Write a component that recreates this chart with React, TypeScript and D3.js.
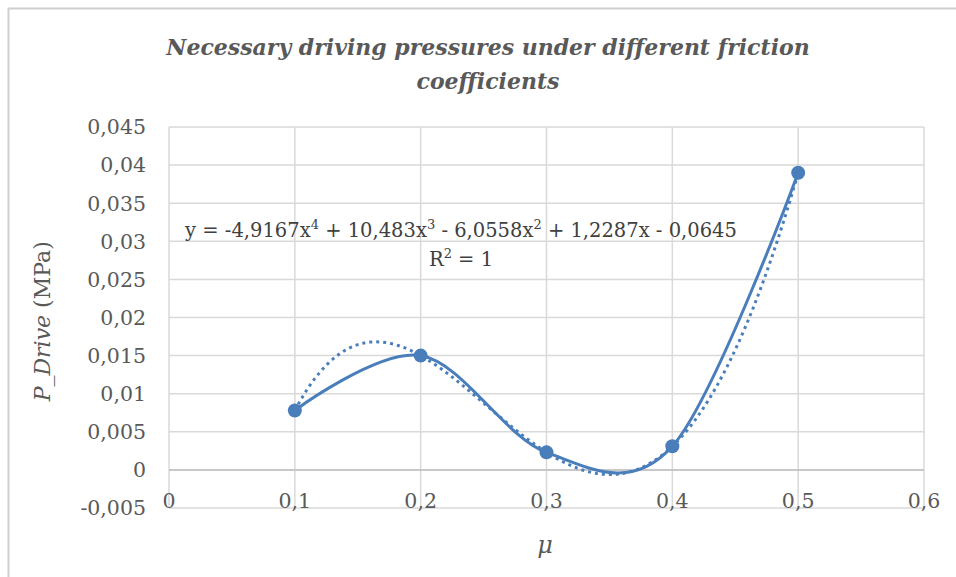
import React from "react";
import * as d3 from "d3";

// measured points
const muValues = [0.1, 0.2, 0.3, 0.4, 0.5];
const pDrive = [0.0078, 0.015, 0.0023, 0.0031, 0.039];

// 4th order trendline coefficients, highest power first (from the chart label)
const trendCoefs = [-4.9167, 10.483, -6.0558, 1.2287, -0.0645];

const xTicks = [0, 0.1, 0.2, 0.3, 0.4, 0.5, 0.6];
const yTicks = [-0.005, 0, 0.005, 0.01, 0.015, 0.02, 0.025, 0.03, 0.035, 0.04, 0.045];

const titleLines = ["Necessary driving pressures under different friction", "coefficients"];

const fmt = (v: number) => String(+v.toFixed(4)).replace(".", ",");

export default function App() {
  const width = 956;
  const height = 577;
  const blue = "#4a7ebb";
  const grey = "#595959";
  const font = "DejaVu Serif";

  const xScale = d3.scaleLinear().domain([0, 0.6]).range([169, 924]);
  const yScale = d3.scaleLinear().domain([-0.005, 0.045]).range([508, 127]);

  const data = muValues.map((m, i) => [m, pDrive[i]] as [number, number]);

  const smooth = d3
    .line<[number, number]>()
    .x((d) => xScale(d[0]))
    .y((d) => yScale(d[1]))
    .curve(d3.curveCardinal.tension(0));

  const poly = (x: number) => trendCoefs.reduce((acc, c) => acc * x + c, 0);
  const trendX = d3.range(0.1, 0.5 + 1e-9, 0.004);
  const trendPts = trendX.map((x) => [x, poly(x)] as [number, number]);
  const trendLine = d3
    .line<[number, number]>()
    .x((d) => xScale(d[0]))
    .y((d) => yScale(d[1]))
    .curve(d3.curveLinear);

  const sup = (s: string) => (
    <tspan dy={-8} fontSize={13}>
      {s}
    </tspan>
  );
  const down = (s: string) => <tspan dy={8}>{s}</tspan>;

  return (
    <svg
      width={width}
      height={height}
      style={{ position: "absolute", left: 0, top: 0, background: "white" }}
    >
      {/* chart frame (continues beyond the window) */}
      <rect x={8.5} y={8.5} width={1000} height={1000} fill="white" stroke="#d0d0d0" strokeWidth={2} />

      {/* title */}
      <g fontFamily={font} fontStyle="italic" fontWeight="bold" fontSize={22} fill={grey} textAnchor="middle">
        {titleLines.map((t, i) => (
          <text key={i} x={488} y={55 + i * 34}>
            {t}
          </text>
        ))}
      </g>

      {/* gridlines */}
      <g stroke="#d9d9d9" strokeWidth={1.5}>
        {yTicks.map((t) => (
          <line key={"y" + t} x1={xScale(0)} x2={xScale(0.6)} y1={yScale(t)} y2={yScale(t)} />
        ))}
        {xTicks.map((t) => (
          <line key={"x" + t} x1={xScale(t)} x2={xScale(t)} y1={yScale(-0.005)} y2={yScale(0.045)} />
        ))}
      </g>
      {/* axis through zero */}
      <line x1={xScale(0)} x2={xScale(0.6)} y1={yScale(0)} y2={yScale(0)} stroke="#bfbfbf" strokeWidth={1.5} />

      {/* tick labels */}
      <g fontFamily={font} fontSize={20.5} fill={grey}>
        {yTicks.map((t) => (
          <text key={"yl" + t} x={146} y={yScale(t)} dy="0.36em" textAnchor="end">
            {fmt(t)}
          </text>
        ))}
        {xTicks.map((t) => (
          <text key={"xl" + t} x={xScale(t)} y={508} textAnchor="middle">
            {fmt(t)}
          </text>
        ))}
      </g>

      {/* axis titles */}
      <text x={545} y={553} fontFamily={font} fontStyle="italic" fontSize={24} fill={grey} textAnchor="middle">
        μ
      </text>
      <text
        transform={`translate(50, ${yScale(0.0195)}) rotate(-90)`}
        fontFamily={font}
        fontSize={22}
        fill={grey}
        textAnchor="middle"
      >
        <tspan fontStyle="italic">P_Drive</tspan> (MPa)
      </text>

      {/* trendline */}
      <path
        d={trendLine(trendPts) || ""}
        fill="none"
        stroke={blue}
        strokeWidth={3}
        strokeDasharray="3 4"
      />

      {/* smoothed series */}
      <path d={smooth(data) || ""} fill="none" stroke={blue} strokeWidth={3} />
      {data.map((d, i) => (
        <circle key={i} cx={xScale(d[0])} cy={yScale(d[1])} r={7} fill={blue} />
      ))}

      {/* trendline equation */}
      <g fontFamily={font} fontSize={19.5} fill="#404040" textAnchor="middle">
        <text x={461} y={237}>
          y = -4,9167x{sup("4")}
          {down(" + 10,483x")}
          {sup("3")}
          {down(" - 6,0558x")}
          {sup("2")}
          {down(" + 1,2287x - 0,0645")}
        </text>
        <text x={461} y={266}>
          R{sup("2")}
          {down(" = 1")}
        </text>
      </g>
    </svg>
  );
}
